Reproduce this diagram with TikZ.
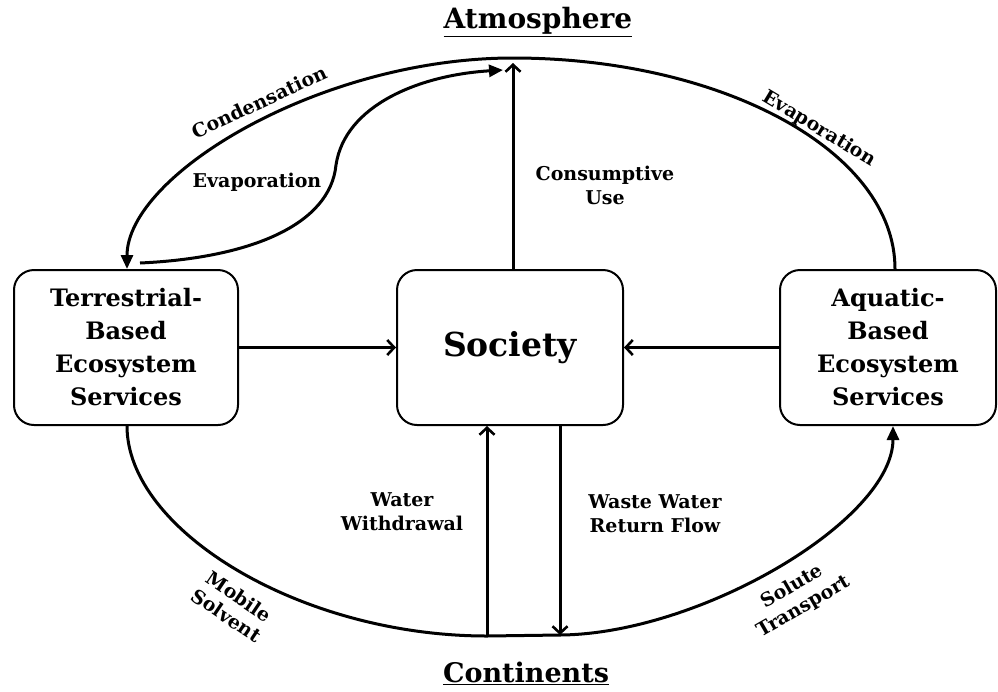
\documentclass[tikz,border=0pt]{standalone}
\usepackage{fontspec}
\setmainfont{DejaVu Serif}
\usetikzlibrary{arrows.meta}
\begin{document}
\begin{tikzpicture}[x=1pt,y=-1pt,
  box/.style={draw,line width=2pt,rounded corners=20pt,align=center,inner sep=0pt,font=\bfseries\fontsize{24}{33}\selectfont},
  lbl/.style={align=center,font=\bfseries\fontsize{19}{24}\selectfont,inner sep=0pt},
  ttl/.style={font=\bfseries\fontsize{28}{30}\selectfont,inner sep=0pt},
  flow/.style={line width=3pt},
  fill tip/.style={-{Triangle[length=14pt,width=12pt]}},
  barb tip/.style={-{Straight Barb[length=7pt,width=15pt,line width=2.6pt]}},
]
\useasboundingbox (0,0) rectangle (998,691);
% boxes
\node[box,minimum width=224pt,minimum height=155pt] (T) at (126,347.5) {Terrestrial-\\Based\\Ecosystem\\Services};
\node[box,minimum width=226pt,minimum height=155pt,font=\bfseries\fontsize{33}{36}\selectfont] (S) at (510,347.5) {Society};
\node[box,minimum width=216pt,minimum height=155pt] (A) at (888,347.5) {Aquatic-\\Based\\Ecosystem\\Services};
% titles
\node[ttl] (atm) at (538,22) {\underline{Atmosphere}};
\node[ttl,font=\bfseries\fontsize{27}{30}\selectfont] (con) at (526,673) {\underline{Continents}};
% key points
\coordinate (top) at (513,58);
\coordinate (atip) at (513,63);
\coordinate (etip) at (503,70);
\coordinate (bl) at (487,636);
\coordinate (br) at (560,635);
% big top arc (Evaporation right + Condensation left)
\draw[flow,fill tip] (A.north -| 895,0) .. controls (895,150) and (720,58) .. (top)
   .. controls (320,58) and (127,175) .. (T.north -| 127,0);
% inner evaporation
\draw[flow,fill tip] (140,263) .. controls (250,258) and (330,225) .. (336,165)
   .. controls (345,105) and (420,75) .. (etip);
% consumptive use
\draw[flow,barb tip] (S.north -| atip) -- (atip);
% horizontal arrows
\draw[flow,barb tip] (T.east) -- (S.west);
\draw[flow,barb tip] (A.west) -- (S.east);
% bottom arc
\draw[flow,fill tip] (T.south -| 127,0) .. controls (127,530) and (300,636) .. (bl)
   -- (br) .. controls (700,634) and (893,520) .. (A.south -| 893,0);
% withdrawal and return flow
\draw[flow,barb tip] (bl) -- (S.south -| bl);
\draw[flow,barb tip] (S.south -| br) -- (br);
% labels
\node[lbl] (lcu) at (605,185) {Consumptive\\Use};
\node[lbl] (lev) at (257,182) {Evaporation};
\node[lbl,rotate=25] (lcd) at (259,102) {Condensation};
\node[lbl,rotate=-31] (lev2) at (819,129) {Evaporation};
\node[lbl] (lww) at (402,512) {Water\\Withdrawal};
\node[lbl] (lrf) at (655,514) {Waste Water\\Return Flow};
\node[lbl,rotate=-34,font=\bfseries\fontsize{19}{23}\selectfont] (lms) at (233,606) {Mobile\\Solvent};
\node[lbl,rotate=30,font=\bfseries\fontsize{19}{23}\selectfont] (lst) at (798,597) {Solute\\Transport};
\end{tikzpicture}
\end{document}
